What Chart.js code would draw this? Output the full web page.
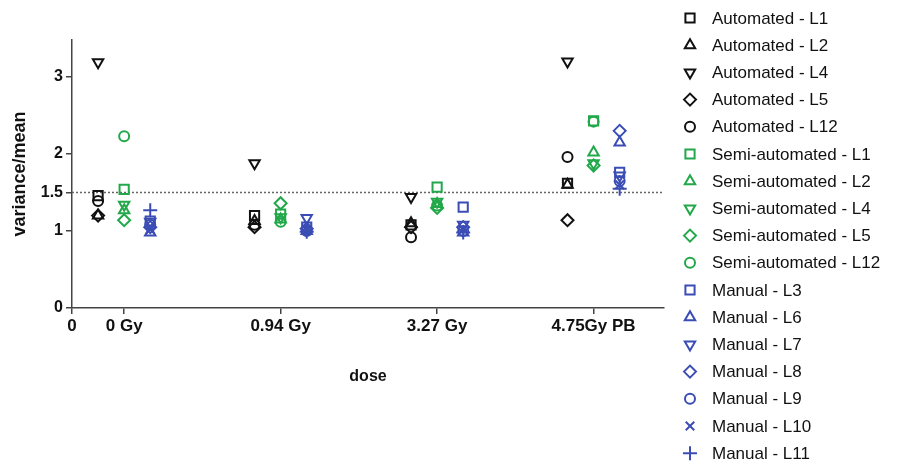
<!DOCTYPE html>
<html>
<head>
<meta charset="utf-8">
<script src="https://cdn.jsdelivr.net/npm/chart.js"></script>
<style>
  html, body { margin: 0; padding: 0; background: #fff; }
  #wrap { width: 904px; height: 464px; }
</style>
</head>
<body>
<div id="wrap"><canvas id="doseChart" width="904" height="464"></canvas></div>
<script>
// =====================
// Data
// =====================
const doses = ['0 Gy', '0.94 Gy', '3.27 Gy', '4.75Gy PB'];
const dosePositions = [1, 4, 7, 10]; // x value of each dose on the original axis
const threshold = 1.5;

const automatedLines = ['L1', 'L2', 'L4', 'L5', 'L12'];
const automatedValues = [
  [1.46, 1.20, 1.08, 1.62],
  [1.20, 1.13, 1.10, 1.60],
  [3.19, 1.88, 1.44, 3.20],
  [1.20, 1.05, 1.05, 1.14],
  [1.39, 1.08, 0.92, 1.96]
];

const semiLines = ['L1', 'L2', 'L4', 'L5', 'L12'];
const semiValues = [
  [1.54, 1.22, 1.57, 2.43],
  [1.27, 1.15, 1.35, 2.02],
  [1.34, 1.18, 1.38, 1.88],
  [1.14, 1.36, 1.30, 1.85],
  [2.23, 1.12, 1.33, 2.42]
];

const manualLines = ['L3', 'L6', 'L7', 'L8', 'L9', 'L10', 'L11'];
const manualValues = [
  [1.13, 1.05, 1.31, 1.76],
  [0.98, 1.00, 0.98, 2.15],
  [1.12, 1.17, 1.08, 1.72],
  [1.05, 1.03, 1.05, 2.30],
  [1.08, 1.00, 1.00, 1.65],
  [1.02, 1.02, 1.02, 1.60],
  [1.27, 0.99, 0.98, 1.55]
];

const yTicks = [0, 1, 1.5, 2, 3];
const xTicks = [0, ...dosePositions];
const xTickLabels = ['0', ...doses];

// =====================
// Styles
// =====================
const markers = [
  { style: 'rect', rotation: 0, radius: 6.5 },
  { style: 'triangle', rotation: 0, radius: 6 },
  { style: 'triangle', rotation: 180, radius: 6 },
  { style: 'rectRot', rotation: 0, radius: 6 },
  { style: 'circle', rotation: 0, radius: 5 },
  { style: 'crossRot', rotation: 0, radius: 6 },
  { style: 'cross', rotation: 0, radius: 7 }
];
const groups = [
  { name: 'Automated', lines: automatedLines, values: automatedValues, color: '#111111', offset: -0.5, marks: [0, 1, 2, 3, 4] },
  { name: 'Semi-automated', lines: semiLines, values: semiValues, color: '#22a84a', offset: 0, marks: [0, 1, 2, 3, 4] },
  { name: 'Manual', lines: manualLines, values: manualValues, color: '#3b4db5', offset: 0.5, marks: [0, 1, 2, 3, 4, 5, 6] }
];

// =====================
// Build datasets
// =====================
const datasets = [];
groups.forEach(g => {
  g.lines.forEach((line, i) => {
    const m = markers[g.marks[i]];
    datasets.push({
      type: 'scatter',
      label: g.name + ' - ' + line,
      data: g.values[i].map((v, k) => ({ x: dosePositions[k] + g.offset, y: v })),
      borderColor: g.color,
      backgroundColor: 'rgba(0,0,0,0)',
      pointStyle: m.style,
      pointRotation: m.rotation,
      pointRadius: m.radius,
      pointHoverRadius: m.radius,
      pointBorderWidth: 2
    });
  });
});

// dotted reference line at variance/mean = 1.5
datasets.push({
  type: 'line',
  label: 'threshold',
  data: [{ x: 0, y: threshold }, { x: 11.35, y: threshold }],
  borderColor: '#666',
  borderWidth: 1.5,
  borderDash: [2, 2],
  pointRadius: 0,
  fill: false
});

// =====================
// Side legend (drawn with Chart.js point helper)
// =====================
const sideLegend = {
  id: 'sideLegend',
  afterDraw(chart) {
    const ctx = chart.ctx;
    ctx.save();
    ctx.font = '17px Arial, "Liberation Sans", sans-serif';
    ctx.textBaseline = 'middle';
    ctx.textAlign = 'left';
    chart.data.datasets.forEach((ds, i) => {
      if (ds.type !== 'scatter') return;
      const y = 18 + i * 27.2;
      ctx.strokeStyle = ds.borderColor;
      ctx.fillStyle = 'rgba(0,0,0,0)';
      ctx.lineWidth = 2;
      Chart.helpers.drawPoint(ctx, {
        pointStyle: ds.pointStyle,
        rotation: ds.pointRotation,
        radius: ds.pointRadius,
        borderWidth: 2
      }, 690, y);
      ctx.fillStyle = '#111';
      ctx.fillText(ds.label, 712, y + 1);
    });
    ctx.restore();
  }
};

// =====================
// Render chart
// =====================
const axisColor = '#444';
new Chart(document.getElementById('doseChart').getContext('2d'), {
  type: 'scatter',
  data: { datasets },
  plugins: [sideLegend],
  options: {
    responsive: false,
    animation: false,
    layout: { padding: { top: 40, right: 240, left: 0, bottom: 0 } },
    plugins: {
      legend: { display: false },
      tooltip: { enabled: false }
    },
    scales: {
      x: {
        type: 'linear',
        min: 0,
        max: 11.35,
        afterFit: s => { s.height = 156; },
        afterBuildTicks: s => { s.ticks = xTicks.map(v => ({ value: v })); },
        ticks: {
          color: '#111',
          font: { family: 'Arial', size: 17, weight: 'bold' },
          padding: 2,
          maxRotation: 0,
          autoSkip: false,
          callback: (v) => xTickLabels[xTicks.indexOf(v)]
        },
        grid: { drawOnChartArea: false, drawTicks: true, tickLength: 6, color: axisColor, lineWidth: 1.5 },
        border: { display: true, color: axisColor, width: 1.5 },
        title: {
          display: true,
          text: 'dose',
          color: '#111',
          font: { family: 'Arial', size: 16, weight: 'bold' },
          padding: { top: 4, bottom: 78 }
        }
      },
      y: {
        min: 0,
        max: 3.48,
        afterFit: s => { s.width = 72; },
        afterBuildTicks: s => { s.ticks = yTicks.map(v => ({ value: v })); },
        ticks: {
          color: '#111',
          font: { family: 'Arial', size: 16, weight: 'bold' },
          padding: 3,
          callback: v => String(v)
        },
        grid: { drawOnChartArea: false, drawTicks: true, tickLength: 6, color: axisColor, lineWidth: 1.5 },
        border: { display: true, color: axisColor, width: 1.5 },
        title: {
          display: true,
          text: 'variance/mean',
          color: '#111',
          font: { family: 'Arial', size: 18, weight: 'bold' },
          padding: { top: 9, bottom: 4 }
        }
      }
    }
  }
});
</script>
</body>
</html>
